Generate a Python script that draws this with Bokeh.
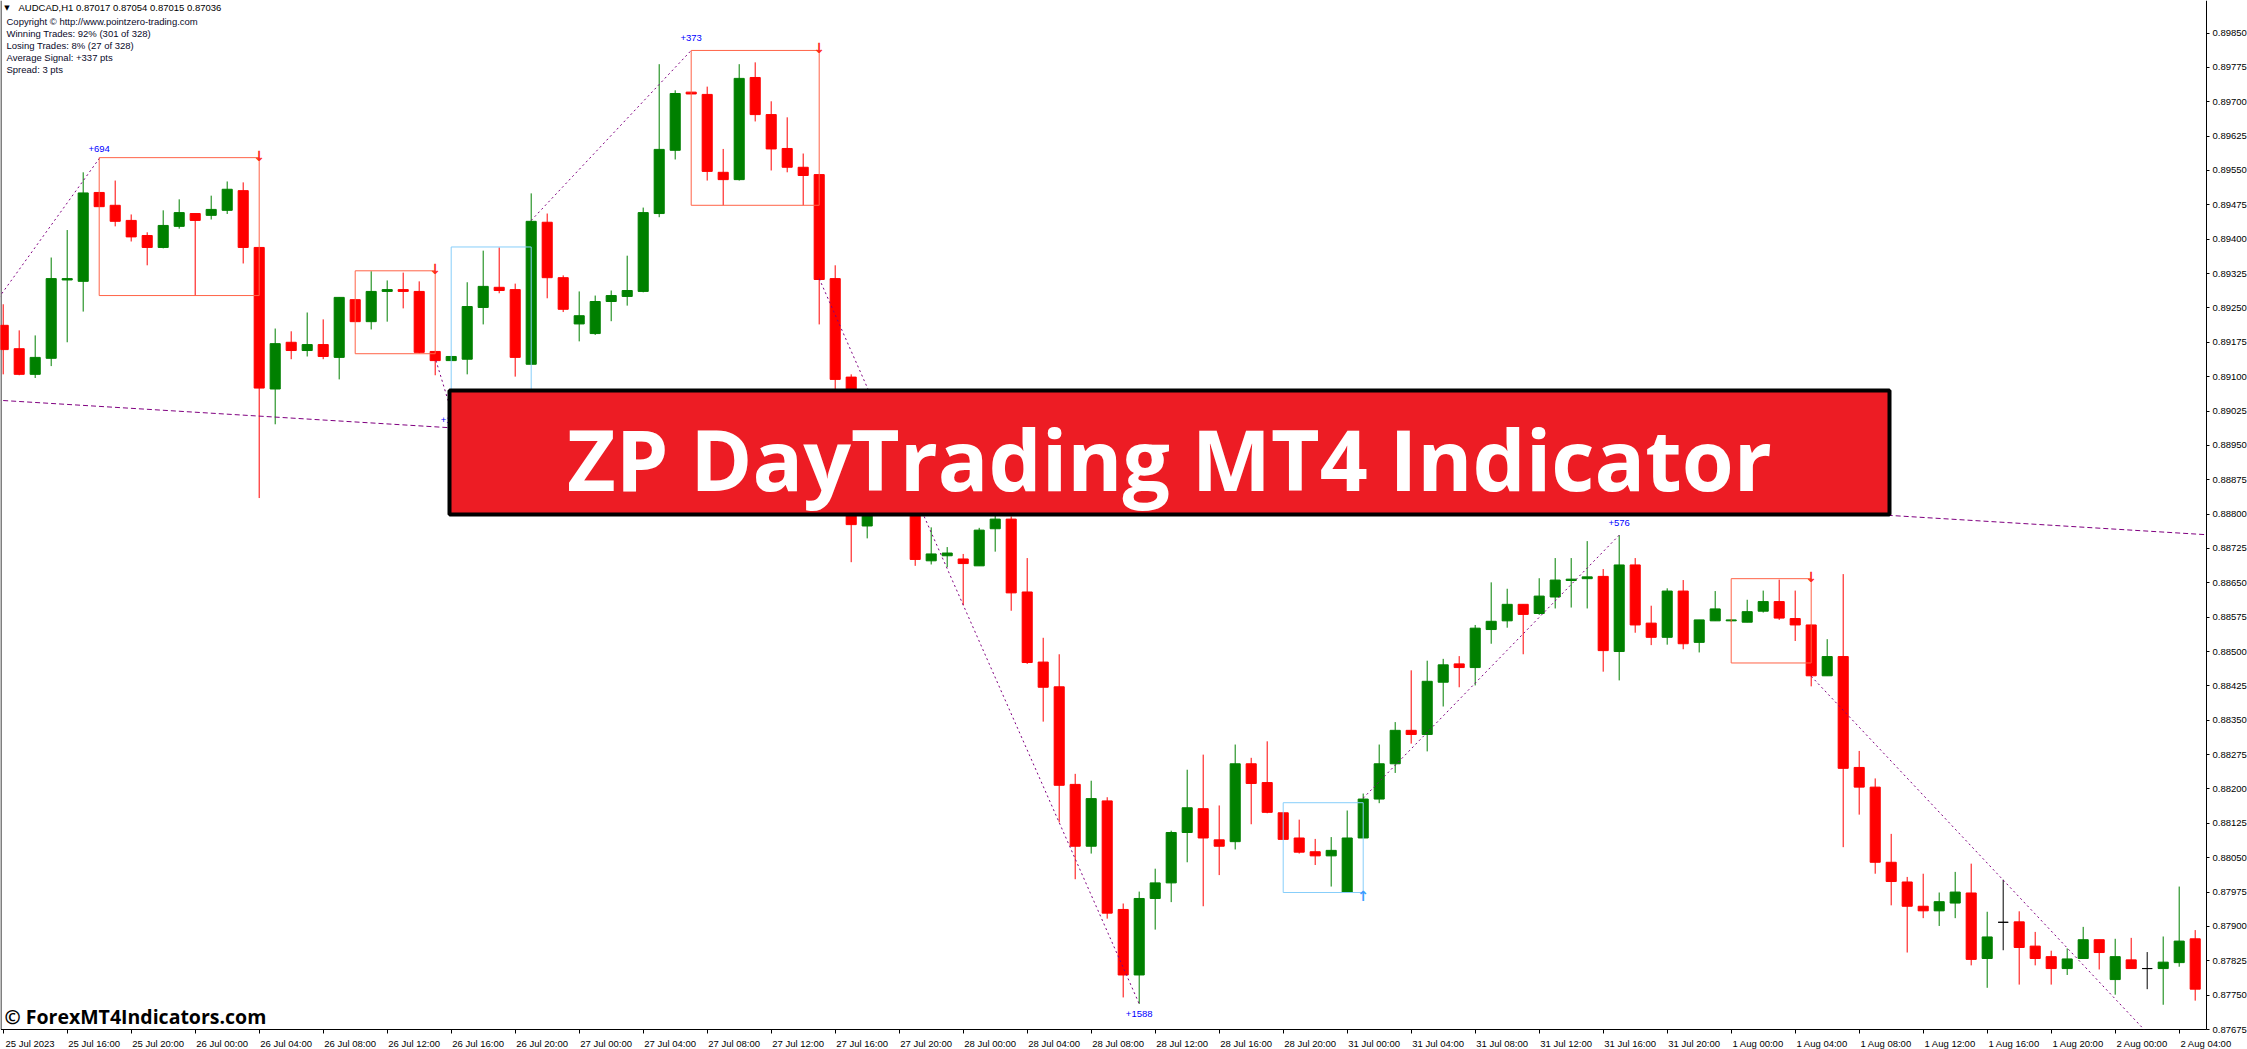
from bokeh.plotting import figure
from bokeh.models import Range1d, LinearAxis, FixedTicker, ColumnDataSource, PrintfTickFormatter
from bokeh.embed import file_html
from bokeh.resources import INLINE
from bokeh.core.properties import value

# ---------------- data (AUDCAD H1, bar 0 = 25 Jul 2023 12:00) ----------------
tick_bars = [0, 4, 8, 12, 16, 20, 24, 28, 32, 36, 40, 44, 48, 52, 56, 60, 64, 68, 72,
             76, 80, 84, 88, 92, 96, 100, 104, 108, 112, 116, 120, 124, 128, 132, 136]
tick_labels = ["25 Jul 2023", "25 Jul 16:00", "25 Jul 20:00", "26 Jul 00:00", "26 Jul 04:00",
               "26 Jul 08:00", "26 Jul 12:00", "26 Jul 16:00", "26 Jul 20:00", "27 Jul 00:00",
               "27 Jul 04:00", "27 Jul 08:00", "27 Jul 12:00", "27 Jul 16:00", "27 Jul 20:00",
               "28 Jul 00:00", "28 Jul 04:00", "28 Jul 08:00", "28 Jul 12:00", "28 Jul 16:00",
               "28 Jul 20:00", "31 Jul 00:00", "31 Jul 04:00", "31 Jul 08:00", "31 Jul 12:00",
               "31 Jul 16:00", "31 Jul 20:00", "1 Aug 00:00", "1 Aug 04:00", "1 Aug 08:00",
               "1 Aug 12:00", "1 Aug 16:00", "1 Aug 20:00", "2 Aug 00:00", "2 Aug 04:00"]

price_ticks = [0.87675, 0.87750, 0.87825, 0.87900, 0.87975, 0.88050, 0.88125, 0.88200,
               0.88275, 0.88350, 0.88425, 0.88500, 0.88575, 0.88650, 0.88725, 0.88800,
               0.88875, 0.88950, 0.89025, 0.89100, 0.89175, 0.89250, 0.89325, 0.89400,
               0.89475, 0.89550, 0.89625, 0.89700, 0.89775, 0.89850]

opens = [0.89212, 0.89161, 0.89105, 0.89140, 0.89311, 0.89308, 0.89502, 0.89474, 0.89441, 0.89408,
         0.89382, 0.89428, 0.89456, 0.89452, 0.89463, 0.89506, 0.89382, 0.89073, 0.89175, 0.89157,
         0.89170, 0.89142, 0.89268, 0.89220, 0.89286, 0.89290, 0.89286, 0.89155, 0.89135, 0.89138,
         0.89251, 0.89295, 0.89290, 0.89127, 0.89437, 0.89316, 0.89215, 0.89194, 0.89264, 0.89275,
         0.89286, 0.89456, 0.89594, 0.89721, 0.89716, 0.89546, 0.89530, 0.89753, 0.89672, 0.89598,
         0.89557, 0.89541, 0.89314, 0.89099, 0.88774, 0.88900, 0.88950, 0.88860, 0.88698, 0.88709,
         0.88702, 0.88687, 0.88768, 0.88789, 0.88630, 0.88477, 0.88423, 0.88210, 0.88075, 0.88174,
         0.87937, 0.87794, 0.87961, 0.87995, 0.88105, 0.88157, 0.88089, 0.88085, 0.88255, 0.88214,
         0.88148, 0.88093, 0.88063, 0.88054, 0.87975, 0.88093, 0.88178, 0.88255, 0.88328, 0.88319,
         0.88433, 0.88473, 0.88465, 0.88548, 0.88567, 0.88603, 0.88583, 0.88619, 0.88655, 0.88659,
         0.88664, 0.88500, 0.88689, 0.88562, 0.88531, 0.88632, 0.88520, 0.88567, 0.88567, 0.88564,
         0.88588, 0.88609, 0.88572, 0.88558, 0.88447, 0.88489, 0.88247, 0.88204, 0.88040, 0.87997,
         0.87944, 0.87934, 0.87951, 0.87973, 0.87830, 0.87909, 0.87910, 0.87857, 0.87834, 0.87808,
         0.87830, 0.87871, 0.87784, 0.87827, 0.87808, 0.87808, 0.87821, 0.87873]
highs = [0.89258, 0.89201, 0.89190, 0.89360, 0.89420, 0.89546, 0.89502, 0.89528, 0.89454, 0.89415,
         0.89463, 0.89487, 0.89456, 0.89495, 0.89526, 0.89524, 0.89382, 0.89205, 0.89199, 0.89240,
         0.89225, 0.89273, 0.89268, 0.89330, 0.89310, 0.89327, 0.89308, 0.89155, 0.89144, 0.89306,
         0.89375, 0.89382, 0.89303, 0.89500, 0.89456, 0.89321, 0.89286, 0.89277, 0.89288, 0.89364,
         0.89469, 0.89782, 0.89725, 0.89721, 0.89733, 0.89597, 0.89782, 0.89786, 0.89701, 0.89666,
         0.89587, 0.89541, 0.89343, 0.89105, 0.88920, 0.88975, 0.88965, 0.88875, 0.88771, 0.88728,
         0.88713, 0.88770, 0.88812, 0.88795, 0.88704, 0.88530, 0.88494, 0.88233, 0.88218, 0.88182,
         0.87950, 0.87976, 0.88026, 0.88109, 0.88242, 0.88275, 0.88164, 0.88297, 0.88268, 0.88304,
         0.88148, 0.88133, 0.88091, 0.88095, 0.88153, 0.88190, 0.88297, 0.88346, 0.88459, 0.88480,
         0.88484, 0.88490, 0.88558, 0.88651, 0.88637, 0.88603, 0.88660, 0.88704, 0.88704, 0.88741,
         0.88680, 0.88754, 0.88704, 0.88600, 0.88638, 0.88656, 0.88569, 0.88632, 0.88571, 0.88613,
         0.88633, 0.88657, 0.88633, 0.88559, 0.88527, 0.88669, 0.88283, 0.88223, 0.88102, 0.88008,
         0.88015, 0.87974, 0.88019, 0.88037, 0.87932, 0.88002, 0.87933, 0.87888, 0.87847, 0.87852,
         0.87899, 0.87871, 0.87873, 0.87875, 0.87844, 0.87878, 0.87987, 0.87892]
lows = [0.89105, 0.89103, 0.89097, 0.89123, 0.89175, 0.89242, 0.89471, 0.89428, 0.89395, 0.89343,
        0.89380, 0.89423, 0.89276, 0.89443, 0.89455, 0.89347, 0.88835, 0.88996, 0.89138, 0.89144,
        0.89138, 0.89094, 0.89220, 0.89203, 0.89220, 0.89249, 0.89151, 0.89103, 0.89135, 0.89105,
        0.89214, 0.89282, 0.89100, 0.89127, 0.89271, 0.89241, 0.89177, 0.89191, 0.89221, 0.89255,
        0.89284, 0.89448, 0.89574, 0.89717, 0.89528, 0.89474, 0.89528, 0.89657, 0.89550, 0.89546,
        0.89474, 0.89214, 0.89060, 0.88695, 0.88747, 0.88880, 0.88840, 0.88687, 0.88690, 0.88684,
        0.88601, 0.88687, 0.88718, 0.88589, 0.88473, 0.88347, 0.88127, 0.88003, 0.88059, 0.87917,
        0.87745, 0.87731, 0.87893, 0.87953, 0.88040, 0.87944, 0.88012, 0.88068, 0.88123, 0.88147,
        0.88090, 0.88059, 0.88034, 0.87987, 0.87975, 0.88093, 0.88169, 0.88235, 0.88299, 0.88282,
        0.88380, 0.88422, 0.88426, 0.88517, 0.88552, 0.88494, 0.88580, 0.88594, 0.88596, 0.88594,
        0.88456, 0.88437, 0.88541, 0.88514, 0.88515, 0.88505, 0.88498, 0.88567, 0.88565, 0.88564,
        0.88585, 0.88569, 0.88523, 0.88424, 0.88447, 0.88073, 0.88144, 0.88015, 0.87946, 0.87843,
        0.87918, 0.87901, 0.87918, 0.87815, 0.87766, 0.87848, 0.87773, 0.87815, 0.87773, 0.87794,
        0.87830, 0.87806, 0.87751, 0.87808, 0.87763, 0.87729, 0.87812, 0.87738]
closes = [0.89159, 0.89105, 0.89142, 0.89314, 0.89314, 0.89501, 0.89471, 0.89439, 0.89405, 0.89382,
          0.89430, 0.89458, 0.89441, 0.89465, 0.89509, 0.89382, 0.89075, 0.89172, 0.89157, 0.89170,
          0.89144, 0.89273, 0.89220, 0.89286, 0.89290, 0.89286, 0.89153, 0.89135, 0.89144, 0.89253,
          0.89297, 0.89288, 0.89142, 0.89439, 0.89316, 0.89247, 0.89233, 0.89264, 0.89277, 0.89288,
          0.89458, 0.89596, 0.89718, 0.89717, 0.89548, 0.89530, 0.89751, 0.89672, 0.89597, 0.89557,
          0.89539, 0.89312, 0.89094, 0.88777, 0.88900, 0.88950, 0.88860, 0.88701, 0.88713, 0.88715,
          0.88692, 0.88765, 0.88789, 0.88628, 0.88476, 0.88422, 0.88208, 0.88075, 0.88179, 0.87929,
          0.87794, 0.87961, 0.87995, 0.88105, 0.88159, 0.88093, 0.88075, 0.88255, 0.88212, 0.88149,
          0.88090, 0.88062, 0.88054, 0.88066, 0.88093, 0.88178, 0.88255, 0.88328, 0.88319, 0.88435,
          0.88471, 0.88465, 0.88551, 0.88566, 0.88603, 0.88581, 0.88621, 0.88656, 0.88658, 0.88663,
          0.88502, 0.88689, 0.88558, 0.88531, 0.88632, 0.88517, 0.88569, 0.88593, 0.88569, 0.88587,
          0.88609, 0.88573, 0.88558, 0.88447, 0.88489, 0.88245, 0.88204, 0.88040, 0.87998, 0.87944,
          0.87934, 0.87954, 0.87975, 0.87828, 0.87877, 0.87909, 0.87854, 0.87830, 0.87808, 0.87829,
          0.87871, 0.87843, 0.87834, 0.87808, 0.87808, 0.87822, 0.87868, 0.87763]

# indicator objects: signal boxes (bar index, price)
box_x0 = [6, 22, 28, 43, 80, 108]
box_x1 = [16, 27, 33, 51, 85, 113]
box_top = [0.89578, 0.89331, 0.89383, 0.89812, 0.88170, 0.88659]
box_bottom = [0.89277, 0.89150, 0.89040, 0.89474, 0.87974, 0.88475]
box_side = ["sell", "sell", "buy", "sell", "buy", "sell"]

# zig-zag (dotted) signal moves
zz_x0 = [-1, 27.05, 33, 51, 85, 113]
zz_y0 = [0.89237, 0.89135, 0.89441, 0.89314, 0.88180, 0.88446]
zz_x1 = [6, 27.9, 43, 71, 101, 133.8]
zz_y1 = [0.89576, 0.89037, 0.89812, 0.87731, 0.88754, 0.87675]

# signal results
sig_text = ["+694", "+146", "+373", "+1588", "+576"]
sig_x = [6, 27.35, 43, 71, 101]
sig_y = [0.89576, 0.89037, 0.89812, 0.87731, 0.88754]
sig_dy = [-10, 14, -12, 10, -12]
sig_align = ["center", "left", "center", "center", "center"]

# long dashed line
trend_x = [-1, 137.7]
trend_y = [0.89050, 0.88755]

header = "AUDCAD,H1  0.87017 0.87054 0.87015 0.87036"
info_lines = ["Copyright \u00a9 http://www.pointzero-trading.com",
              "Winning Trades: 92% (301 of 328)",
              "Losing Trades: 8% (27 of 328)",
              "Average Signal: +337 pts",
              "Spread: 3 pts"]

# ---------------- layout helpers (reference pixel -> data) ----------------
def rx(px):
    return (px - 2.7) / 16.0


def ry(py):
    return 0.89921 - py * 2.1827e-5


GREEN = "#008000"
RED = "#FF0000"
FONT = value("Liberation Sans")
AXIS_X = rx(2206)          # position of the price scale (right edge of chart)
AXIS_Y = price_ticks[0]    # position of the time scale (bottom of chart)
W, H = 2247, 1049

p = figure(width=W, height=H, output_backend="svg", toolbar_location=None,
           x_range=Range1d(rx(0), rx(W)), y_range=Range1d(ry(H), ry(0)),
           x_axis_location=None, y_axis_location=None, min_border=0,
           background_fill_color="white", border_fill_color="white")
p.outline_line_color = None
p.grid.visible = False

# axes (drawn at fixed locations, like the MT4 chart frame)
lab_pos = [b + 1.68 for b in tick_bars]
xaxis = LinearAxis(ticker=FixedTicker(ticks=lab_pos, minor_ticks=tick_bars), fixed_location=AXIS_Y,
                   major_label_overrides={lp: t for lp, t in zip(lab_pos, tick_labels)},
                   major_tick_out=0, major_tick_in=0, minor_tick_out=4, minor_tick_in=0,
                   minor_tick_line_color="black", major_label_standoff=4,
                   major_label_text_font="Liberation Sans", major_label_text_font_size="9.5px",
                   major_label_text_color="black", axis_line_color=None, axis_label=None)
p.add_layout(xaxis, "below")
yaxis = LinearAxis(ticker=FixedTicker(ticks=price_ticks, minor_ticks=[]), fixed_location=AXIS_X,
                   formatter=PrintfTickFormatter(format="%.5f"),
                   major_tick_out=3, major_tick_in=0, minor_tick_out=0, minor_tick_in=0,
                   major_tick_line_color="black", major_label_standoff=3,
                   major_label_text_font="Liberation Sans", major_label_text_font_size="9.5px",
                   major_label_text_color="black", axis_line_color=None, axis_label=None)
p.add_layout(yaxis, "right")
# chart frame lines: bottom (time scale), right (price scale), left border
p.segment(x0=[rx(0.5), AXIS_X, rx(0.5)], y0=[AXIS_Y, AXIS_Y, AXIS_Y],
          x1=[AXIS_X, AXIS_X, rx(0.5)], y1=[AXIS_Y, ry(0), ry(0)], line_color="black", line_width=1)

# candles
n = len(opens)
idx = list(range(n))
colors = []
for o, c in zip(opens, closes):
    colors.append("black" if o == c else (GREEN if c > o else RED))
src = ColumnDataSource(dict(x=idx, o=opens, h=highs, l=lows, c=closes, color=colors,
                            top=[max(o, c) for o, c in zip(opens, closes)],
                            bot=[min(o, c) for o, c in zip(opens, closes)]))
p.segment(x0="x", y0="l", x1="x", y1="h", line_color="color", line_width=1, source=src)
p.vbar(x="x", width=0.63, top="top", bottom="bot", fill_color="color", line_color="color",
       line_width=1, source=src)

# signal boxes
bcol = ["#FF6347" if s == "sell" else "#87CEFA" for s in box_side]
p.quad(left=box_x0, right=box_x1, top=box_top, bottom=box_bottom, fill_alpha=0,
       line_color=bcol, line_width=1)
sell_i = [i for i, s in enumerate(box_side) if s == "sell"]
buy_i = [i for i, s in enumerate(box_side) if s == "buy"]
p.text(x=[box_x1[i] for i in sell_i], y=[box_top[i] for i in sell_i], text=["\u2193"] * len(sell_i),
       text_font=value("DejaVu Sans"), text_font_style="bold", text_font_size="14px",
       text_color="#FF2A1A", text_align="center", text_baseline="middle", y_offset=-2)
p.text(x=[box_x1[i] for i in buy_i], y=[box_bottom[i] for i in buy_i], text=["\u2191"] * len(buy_i),
       text_font=value("DejaVu Sans"), text_font_style="bold", text_font_size="14px",
       text_color="#3A9BFF", text_align="center", text_baseline="middle", y_offset=3)

# zig-zag dotted lines
for x0, y0, x1, y1 in zip(zz_x0, zz_y0, zz_x1, zz_y1):
    p.line([x0, x1], [y0, y1], line_color="#800080", line_width=1, line_dash="2 3")
p.line(trend_x, trend_y, line_color="#800080", line_width=1, line_dash="5 3")

# signal labels
for t, x, y, dy, al in zip(sig_text, sig_x, sig_y, sig_dy, sig_align):
    p.text(x=[x], y=[y], text=[t], text_font=FONT, text_font_size="9.5px", text_color="#0000FF",
           text_align=al, text_baseline="middle", y_offset=dy)

# info text
p.text(x=[rx(6.5)], y=[ry(7)], text=["\u25bc"], text_font=value("DejaVu Sans"), text_font_size="7px",
       text_color="black", text_align="center", text_baseline="middle")
p.text(x=[rx(18)], y=[ry(7)], text=[header], text_font=FONT, text_font_size="9.5px",
       text_color="black", text_align="left", text_baseline="middle")
info_y = [20.5, 32.8, 44.6, 56.8, 69]
p.text(x=[rx(6)] * len(info_lines), y=[ry(v) for v in info_y], text=info_lines, text_font=FONT,
       text_font_size="9.5px", text_color="#0a0a2a", text_align="left", text_baseline="middle")

# watermark
p.text(x=[rx(4)], y=[ry(1016)], text=["\u00a9 ForexMT4Indicators.com"], text_font=value("Open Sans"),
       text_font_style="bold", text_font_size="19.5px", text_color="black", text_align="left",
       text_baseline="middle")

# banner
p.quad(left=[rx(449)], right=[rx(1889)], top=[ry(390)], bottom=[ry(514)], fill_color="#ED1C24",
       line_color="black", line_width=4)
p.text(x=[rx(1169)], y=[ry(458)], text=["ZP DayTrading MT4 Indicator"], text_font=value("Open Sans"),
       text_font_style="bold", text_font_size="84px", text_color="white", text_align="center",
       text_baseline="middle")

open("out.html", "w").write(file_html(p, INLINE))
